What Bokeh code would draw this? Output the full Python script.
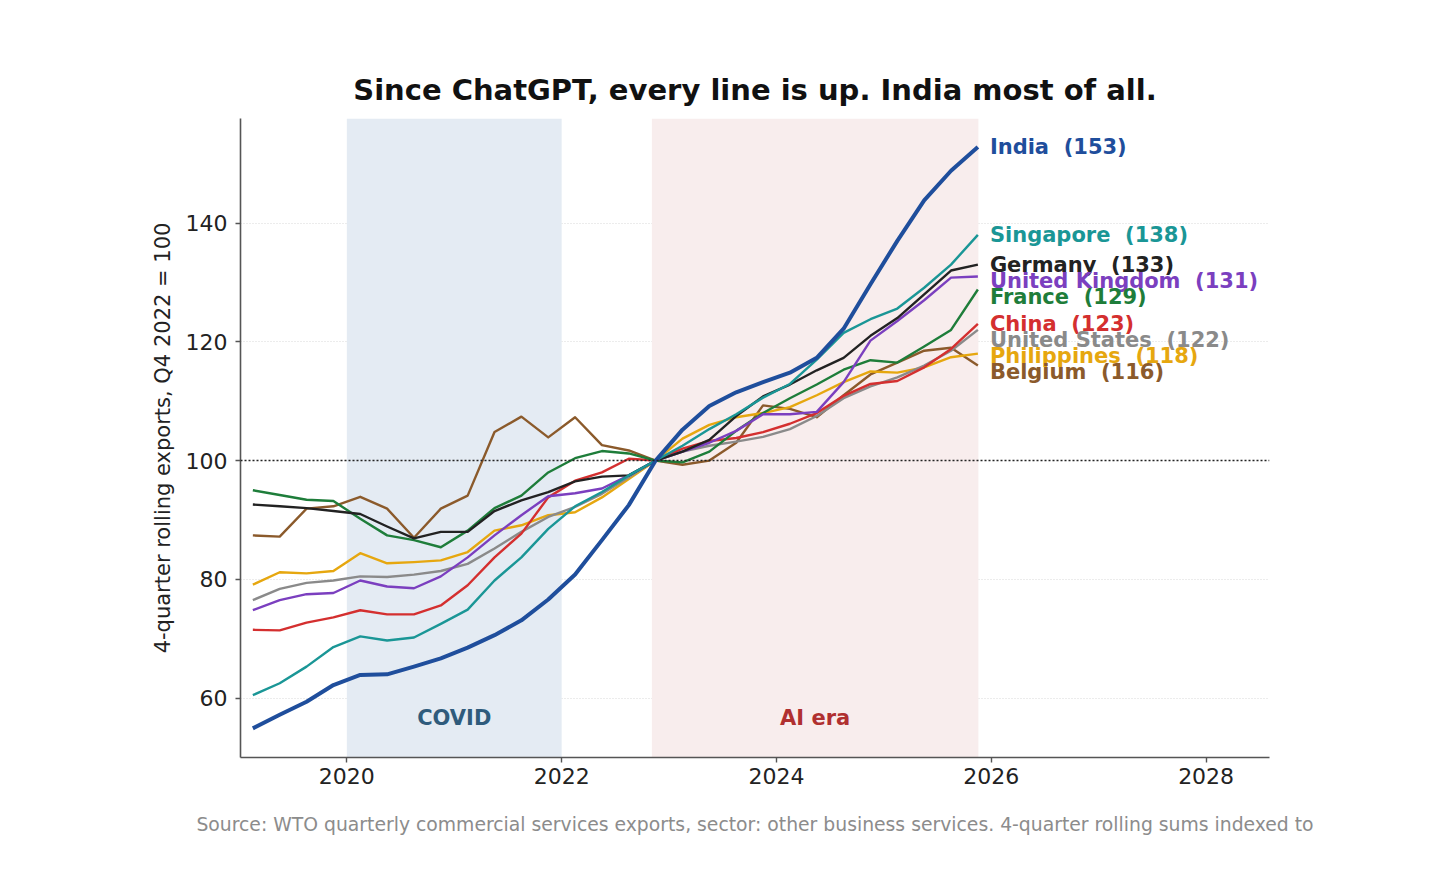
# -*- coding: utf-8 -*-
# Quarterly "other business services" exports, 4-quarter rolling sums indexed to Q4 2022 = 100
import numpy as np

from bokeh.plotting import figure
from bokeh.models import Range1d, FixedTicker, Span, BoxAnnotation, Label, Title
from bokeh.core.properties import value
from bokeh.embed import file_html
from bokeh.resources import INLINE

# 数据 (2019Q1 ... 2025Q4)
quarters = ["%dQ%d" % (y, q) for y in range(2019, 2026) for q in range(1, 5)]

countries = ["India", "Singapore", "Germany", "United Kingdom", "France",
             "China", "United States", "Philippines", "Belgium"]

india = [54.9, 57.2, 59.4, 62.2, 63.9, 64.0, 65.3, 66.7, 68.5, 70.6, 73.1, 76.6, 80.8, 86.6,
         92.5, 100.0, 105.2, 109.2, 111.5, 113.2, 114.8, 117.3, 122.2, 129.7, 137.0, 143.8, 148.8, 152.8]
singapore = [60.5, 62.5, 65.3, 68.6, 70.4, 69.7, 70.2, 72.5, 74.9, 79.8, 83.7, 88.5, 92.3, 94.7,
             97.5, 100.0, 102.5, 105.3, 107.8, 110.6, 112.9, 117.0, 121.5, 123.8, 125.6, 129.1, 133.0, 138.0]
germany = [92.6, 92.3, 92.0, 91.5, 91.0, 88.9, 86.9, 88.0, 88.0, 91.5, 93.3, 94.7, 96.5, 97.3,
           97.5, 100.0, 101.5, 103.5, 107.5, 110.8, 112.8, 115.2, 117.3, 121.0, 124.0, 128.0, 132.0, 133.0]
uk = [74.8, 76.5, 77.5, 77.7, 79.8, 78.8, 78.5, 80.5, 83.7, 87.4, 90.8, 94.0, 94.5, 95.3,
      97.5, 100.0, 101.5, 103.0, 105.0, 107.8, 107.8, 108.2, 113.2, 120.2, 123.5, 127.0, 130.8, 131.0]
france = [95.0, 94.2, 93.4, 93.2, 90.2, 87.4, 86.6, 85.4, 88.2, 92.0, 94.1, 98.0, 100.4, 101.6,
          101.2, 100.0, 99.7, 101.5, 105.0, 108.0, 110.5, 112.8, 115.3, 116.9, 116.5, 119.2, 122.0, 128.8]
china = [71.5, 71.4, 72.7, 73.6, 74.8, 74.1, 74.1, 75.6, 79.0, 83.7, 87.7, 93.8, 96.6, 98.0,
         100.3, 100.0, 102.0, 103.3, 103.8, 104.8, 106.2, 108.0, 110.9, 112.9, 113.4, 115.7, 118.8, 123.0]
usa = [76.5, 78.4, 79.4, 79.8, 80.5, 80.4, 80.8, 81.4, 82.6, 85.2, 88.0, 90.5, 92.2, 94.4,
       97.2, 100.0, 101.5, 102.5, 103.2, 104.0, 105.3, 107.5, 110.5, 112.5, 114.0, 116.0, 118.5, 122.0]
philippines = [79.1, 81.2, 81.0, 81.4, 84.4, 82.7, 82.9, 83.2, 84.6, 88.2, 89.1, 90.8, 91.3, 93.8,
               96.9, 100.0, 103.7, 106.0, 107.3, 108.0, 109.0, 111.0, 113.2, 115.0, 114.8, 115.7, 117.4, 118.0]
belgium = [87.4, 87.2, 91.9, 92.3, 93.9, 91.9, 87.0, 91.9, 94.1, 104.8, 107.4, 103.9, 107.3, 102.6,
           101.7, 100.0, 99.3, 100.0, 103.0, 109.3, 108.7, 107.3, 111.0, 114.5, 116.5, 118.5, 119.0, 116.0]

series = [india, singapore, germany, uk, france, china, usa, philippines, belgium]
colors = ["#1f4e9c", "#1a9696", "#222222", "#7b3fbf", "#1e7d3a",
          "#d42f2f", "#8a8a8a", "#e6a70f", "#8b5a2b"]

x_ticks = [2020, 2022, 2024, 2026, 2028]
y_ticks = [60, 80, 100, 120, 140]
covid = (2020.0, 2022.0)
ai_era = (2022.84, 2025.88)

title = "Since ChatGPT, every line is up. India most of all."
y_label = "4-quarter rolling exports, Q4 2022 = 100"
source = ("Source: WTO quarterly commercial services exports, sector: other business services. "
          "4-quarter rolling sums indexed to")

FONT = "DejaVu Sans"
NBSP2 = "\u00a0\u00a0"

# 季度 -> 年份小数 (季度中点)
x = np.array([int(s[:4]) + (int(s[-1]) - 1) * 0.25 + 0.125 for s in quarters])

p = figure(width=1440, height=861,
           x_range=Range1d(2019.01, 2028.59), y_range=Range1d(50.0, 157.6),
           output_backend="svg", toolbar_location=None,
           min_border_left=240, min_border_right=171,
           min_border_top=118, min_border_bottom=104)
p.outline_line_color = None
p.background_fill_color = "white"

p.title.text = title
p.title.align = "center"
p.title.text_font = FONT
p.title.text_font_size = "29px"
p.title.text_font_style = "bold"
p.title.text_color = "#111111"
p.title.standoff = 24

# 阴影区域
p.add_layout(BoxAnnotation(left=covid[0], right=covid[1], fill_color="#e4ebf3",
                           fill_alpha=1.0, line_color=None, level="underlay"))
p.add_layout(BoxAnnotation(left=ai_era[0], right=ai_era[1], fill_color="#f8eded",
                           fill_alpha=1.0, line_color=None, level="underlay"))

# 坐标轴
for ax in (p.xaxis, p.yaxis):
    ax.axis_line_color = "#555555"
    ax.axis_line_width = 1.6
    ax.major_tick_line_color = "#555555"
    ax.major_tick_line_width = 1.4
    ax.major_tick_out = 5
    ax.major_tick_in = 0
    ax.minor_tick_out = 0
    ax.minor_tick_in = 0
    ax.major_label_text_font = FONT
    ax.major_label_text_font_size = "22px"
    ax.major_label_text_color = "#222222"
p.xaxis.ticker = FixedTicker(ticks=x_ticks)
p.yaxis.ticker = FixedTicker(ticks=y_ticks)
p.xaxis.major_label_standoff = 5
p.yaxis.major_label_standoff = 8
p.yaxis.axis_label = y_label
p.yaxis.axis_label_text_font = FONT
p.yaxis.axis_label_text_font_size = "21px"
p.yaxis.axis_label_text_font_style = "normal"
p.yaxis.axis_label_text_color = "#222222"
p.yaxis.axis_label_standoff = 8

p.xgrid.visible = False
p.ygrid.ticker = FixedTicker(ticks=[t for t in y_ticks if t != 100])
p.ygrid.grid_line_color = "#d9d9d9"
p.ygrid.grid_line_dash = "1 2"
p.ygrid.grid_line_width = 1.2

p.add_layout(Span(location=100, dimension="width", line_color="#222222",
                  line_dash="2 2", line_width=1.4))

# 区域文字
p.add_layout(Label(x=(covid[0] + covid[1]) / 2, y=56.7, text="COVID",
                   text_font=FONT, text_font_size="21px", text_font_style="bold",
                   text_color="#2f5b7c", text_align="center", text_baseline="middle"))
p.add_layout(Label(x=(ai_era[0] + ai_era[1]) / 2, y=56.7, text="AI era",
                   text_font=FONT, text_font_size="21px", text_font_style="bold",
                   text_color="#b03030", text_align="center", text_baseline="middle"))

# 线条
for name, vals, col in reversed(list(zip(countries, series, colors))):
    p.line(x, vals, line_color=col, line_width=4 if name == "India" else 2.4,
           line_join="round")

# 末端标签, 简单去重叠
order = sorted(range(len(series)), key=lambda k: -series[k][-1])
label_y = {}
prev = None
for k in order:
    yv = series[k][-1]
    if prev is not None and prev - yv < 2.7:
        yv = prev - 2.7
    label_y[k] = yv
    prev = yv

for k in order:
    p.text(x=[x[-1]], y=[label_y[k]],
           text=["%s%s(%d)" % (countries[k], NBSP2, round(series[k][-1]))],
           x_offset=12, text_font=value(FONT), text_font_size="21px",
           text_font_style="bold", text_color=colors[k], text_baseline="middle")

src = Title(text=source, align="center", text_font=FONT, text_font_size="18.8px",
            text_font_style="normal", text_color="#8c8c8c", standoff=51)
p.add_layout(src, "below")

open("out.html", "w").write(file_html(p, INLINE))
